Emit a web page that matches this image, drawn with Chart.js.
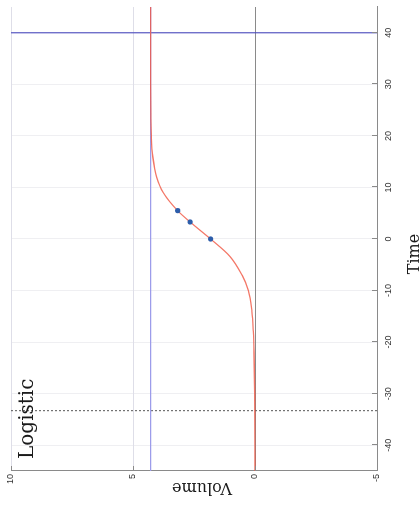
<!DOCTYPE html>
<html>
<head>
<meta charset="utf-8">
<script src="https://cdn.jsdelivr.net/npm/chart.js@4/dist/chart.umd.min.js"></script>
<style>
  html, body { margin: 0; padding: 0; background: #fff; }
  body { width: 420px; height: 512px; position: relative; overflow: hidden; }
  /* the plot is laid out landscape and turned a quarter turn */
  #wrap {
    position: absolute; left: 0; top: 0;
    width: 512px; height: 420px;
    transform-origin: 0 0;
    transform: translate(0, 512px) rotate(-90deg);
  }
</style>
</head>
<body>
<div id="wrap"><canvas id="growth" width="512" height="420"></canvas></div>
<script>
const timeTicks = [-40, -30, -20, -10, 0, 10, 20, 30, 40];
const volumeTicks = [-5, 0, 5, 10];

// fitted logistic curve
const curveTime   = [-45, -30, -22, -18, -14, -10, -7, -3.4, 0, 3.3, 5.5, 9, 12, 16, 20, 24, 30, 45];
const curveVolume = [0, 0.01, 0.04, 0.07, 0.13, 0.27, 0.53, 1.02, 1.82, 2.66, 3.17, 3.76, 4.03, 4.19, 4.25, 4.27, 4.28, 4.28];

// measured points
const obsTime   = [0, 3.3, 5.5];
const obsVolume = [1.82, 2.66, 3.17];

const capacity = 4.28;
const horizonTime = 40;
const startTime = -33.3;

const serif = "'DejaVu Serif', serif";

const tickMarks = {
  id: "tickMarks",
  afterDraw(chart) {
    const ctx = chart.ctx;
    const xs = chart.scales.x, ys = chart.scales.y;
    const area = chart.chartArea;
    ctx.save();
    ctx.strokeStyle = "#8a8a8a";
    ctx.lineWidth = 1;
    ctx.beginPath();
    timeTicks.forEach(t => {
      const px = Math.round(xs.getPixelForValue(t)) + 0.5;
      ctx.moveTo(px, area.bottom);
      ctx.lineTo(px, area.bottom - 5);
    });
    volumeTicks.forEach(v => {
      const py = Math.round(ys.getPixelForValue(v)) + 0.5;
      ctx.moveTo(area.left, py);
      ctx.lineTo(area.left + 5, py);
    });
    ctx.stroke();

    // labels
    ctx.fillStyle = "#1a1a1a";
    ctx.font = "20px " + serif;
    ctx.textAlign = "left";
    ctx.textBaseline = "alphabetic";
    ctx.fillText("Logistic", 53, 33);

    ctx.font = "16px " + serif;
    ctx.textAlign = "center";
    ctx.fillText("Time", 258, 419);

    ctx.translate(29, 202);
    ctx.rotate(-Math.PI / 2);
    ctx.fillText("Volume", 0, 0);
    ctx.restore();
  }
};

new Chart(document.getElementById("growth"), {
  type: "scatter",
  data: {
    datasets: [
      {
        data: obsTime.map((t, i) => ({ x: t, y: obsVolume[i] })),
        backgroundColor: "#2d5daa",
        borderWidth: 0,
        pointRadius: 2.6,
        order: 0
      },
      {
        type: "line",
        data: curveTime.map((t, i) => ({ x: t, y: curveVolume[i] })),
        borderColor: "rgba(240, 85, 65, 0.8)",
        borderWidth: 1.3,
        cubicInterpolationMode: "monotone",
        pointRadius: 0,
        order: 1
      },
      {
        type: "line",
        data: [{ x: -45, y: capacity }, { x: 45, y: capacity }],
        borderColor: "#9c9cea",
        borderWidth: 1.2,
        pointRadius: 0,
        order: 2
      },
      {
        type: "line",
        data: [{ x: horizonTime, y: -5 }, { x: horizonTime, y: 10 }],
        borderColor: "#4b4bbf",
        borderWidth: 1.1,
        pointRadius: 0,
        order: 3
      },
      {
        type: "line",
        data: [{ x: startTime, y: -5 }, { x: startTime, y: 10 }],
        borderColor: "#555",
        borderWidth: 1,
        borderDash: [2, 2],
        pointRadius: 0,
        order: 3
      }
    ]
  },
  options: {
    responsive: false,
    animation: false,
    events: [],
    layout: { padding: { left: 0, right: 7, top: 11, bottom: 0 } },
    plugins: { legend: { display: false }, tooltip: { enabled: false } },
    scales: {
      x: {
        type: "linear",
        min: -45,
        max: 45,
        afterBuildTicks: s => { s.ticks = timeTicks.map(v => ({ value: v })); },
        afterFit: s => { s.height = 43; },
        grid: { color: "#efeff2", drawTicks: false },
        border: { display: true, color: "#8a8a8a" },
        ticks: {
          padding: 6,
          maxRotation: 0,
          color: "#333",
          font: { family: "'Liberation Sans', sans-serif", size: 9 }
        }
      },
      y: {
        min: -5,
        max: 10,
        afterBuildTicks: s => { s.ticks = volumeTicks.map(v => ({ value: v })); },
        afterFit: s => { s.width = 41; },
        grid: {
          color: c => c.tick && c.tick.value === 0 ? "#8a8a8a" : "#dedee8",
          drawTicks: false
        },
        border: { display: true, color: "#8a8a8a" },
        ticks: {
          padding: 3,
          color: "#333",
          font: { family: "'Liberation Sans', sans-serif", size: 9 }
        }
      }
    }
  },
  plugins: [tickMarks]
});
</script>
</body>
</html>
